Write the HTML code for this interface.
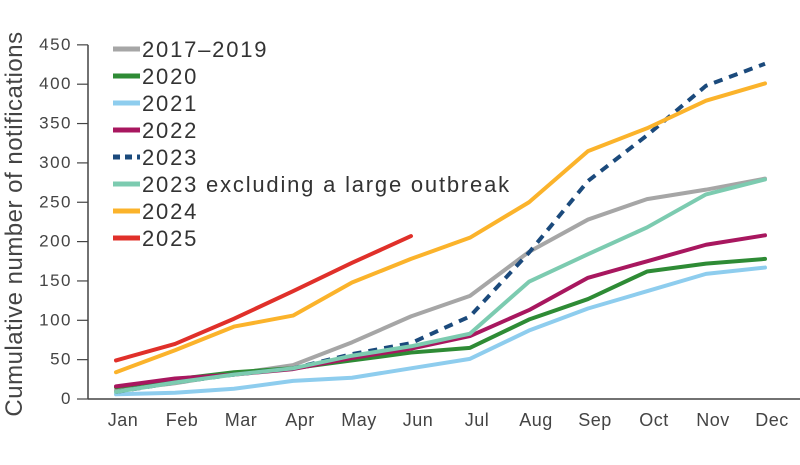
<!DOCTYPE html>
<html><head><meta charset="utf-8"><style>
body{margin:0;background:#fff}
svg{display:block;font-family:"Liberation Sans",sans-serif}
</style></head><body>
<svg id="chart" width="800" height="465">
<text x="22" y="224" transform="rotate(-90 22 224)" text-anchor="middle" font-size="24" letter-spacing="0.5" fill="#444">Cumulative number of notifications</text>
<g id="axes"></g><g id="series"></g><g id="legend"></g>
</svg>
<script>
const months=["Jan","Feb","Mar","Apr","May","Jun","Jul","Aug","Sep","Oct","Nov","Dec"];
const yTicks=[0,50,100,150,200,250,300,350,400,450];
const s2017=[11,20,32,43,72,105,131,187,228,254,266,280];
const s2020=[15,25,34,39,49,59,65,101,127,162,172,178];
const s2021=[6,8,13,23,27,39,51,87,115,137,159,167];
const s2022=[16,26,31,38,52,64,80,113,154,175,196,208];
const s2023=[9,21,31,39,57,71,105,186,277,335,398,426];
const s2023ex=[9,21,31,39,55,67,83,149,184,218,260,279];
const s2024=[34,62,92,106,148,178,205,250,315,344,379,401];
const s2025=[49,70,102,137,173,207];
const names=["2017\u20132019","2020","2021","2022","2023","2023 excluding a large outbreak","2024","2025"];
const colors=["#a6a6a6","#2e8b35","#8ecdee","#a8175f","#1b4a7c","#7ccbb0","#fbb32b","#e0302a"];
const seriesList=[s2017,s2020,s2021,s2022,s2023,s2023ex,s2024,s2025];
const NS="http://www.w3.org/2000/svg";
const x=i=>116+i*59;
const y=v=>399-v*0.787;
function mk(tag,attrs,parent){const e=document.createElementNS(NS,tag);for(const k in attrs)e.setAttribute(k,attrs[k]);parent.appendChild(e);return e;}
const ax=document.getElementById('axes');
let a=mk('line',{x1:88,y1:y(450),x2:88,y2:399,stroke:'#444','stroke-width':1.5},ax);


a=mk('line',{x1:88,y1:399,x2:800,y2:399,stroke:'#444','stroke-width':1.5},ax);


yTicks.forEach(t=>{
 const l=mk('line',{x1:77,y1:y(t),x2:88,y2:y(t),stroke:'#444','stroke-width':1.2},ax);
 
 
 const tx=mk('text',{x:72,y:y(t)+5,'text-anchor':'end','font-size':17,'letter-spacing':1.5,fill:'#444'},ax);
 tx.textContent=t;
 
 
});
months.forEach((m,i)=>{
 const tx=mk('text',{x:x(i)+7,y:426,'text-anchor':'middle','font-size':18,'letter-spacing':0.5,fill:'#444'},ax);
 tx.textContent=m;
 
 
});
const sg=document.getElementById('series');
seriesList.forEach((d,k)=>{
 const p=mk('polyline',{points:d.map((v,i)=>x(i)+','+y(v)).join(' '),fill:'none',stroke:colors[k],'stroke-width':4,'stroke-linejoin':'round','stroke-linecap':'round'},sg);
 if(k===4){p.setAttribute('stroke-dasharray','9 7');p.setAttribute('stroke-linecap','butt');}
 
 
});
const lg=document.getElementById('legend');
names.forEach((n,k)=>{
 const yy=49+k*27;
 const l=mk('line',{x1:113,y1:yy,x2:140,y2:yy,stroke:colors[k],'stroke-width':5},lg);
 if(k===4)l.setAttribute('stroke-dasharray','7 5');
 
 
 const tx=mk('text',{x:142,y:yy+8,'font-size':22,'letter-spacing':1.8,fill:'#333'},lg);
 tx.textContent=n;
 
 
});
</script>
</body></html>
